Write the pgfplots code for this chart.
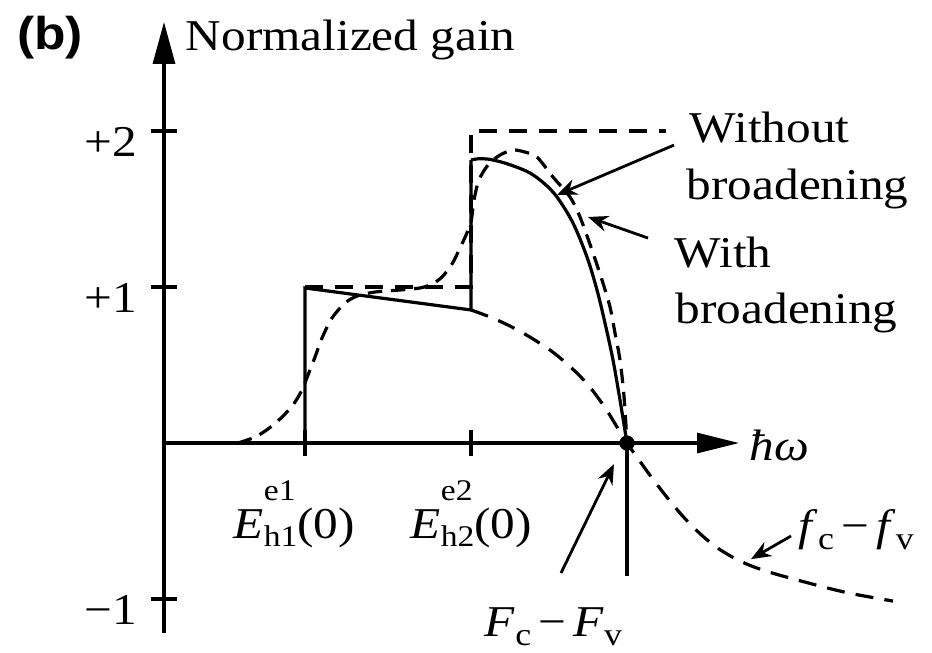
\documentclass[border=0pt]{standalone}
\usepackage{fontspec}
\setmainfont[FakeStretch=1.12]{Liberation Serif}
\newfontfamily\panelfont[FakeStretch=1.12]{Liberation Sans}
\usepackage{pgfplots}
\pgfplotsset{compat=1.18}
\usetikzlibrary{arrows.meta}

% stacked super/subscript used in the threshold labels
\newcommand{\Elabel}[2]{\textit{E}\rlap{\raisebox{9.5pt}{\fontsize{7.5}{8}\selectfont e#1}}\raisebox{-1.8pt}{\fontsize{7.5}{8}\selectfont h#2}(0)}
\newcommand{\sub}[1]{\raisebox{-2.4pt}{\fontsize{8}{9}\selectfont #1}}

\begin{document}
\begin{tikzpicture}[font=\fontsize{11}{13}\selectfont]
\begin{axis}[
  x=0.25pt, y=39pt,
  xmin=0, xmax=575, ymin=-1.218, ymax=2.699,
  enlargelimits=false,
  axis lines=middle,
  axis line style={line width=0.8pt, black},
  every inner x axis line/.append style={-{Triangle[length=10.5pt,width=5pt]}},
  every inner y axis line/.append style={-{Triangle[length=10.5pt,width=5.5pt]}},
  xtick={141,307}, xticklabels={},
  ytick={-1,1,2}, yticklabels={−1,+1,+2},
  yticklabel style={yshift=-2.8pt},
  tick align=center,
  major tick length=6.5pt,
  tick style={line width=0.8pt, black},
  clip=false,
]
% gain without broadening
\addplot[line width=0.8pt, black] coordinates {(141,0)(141,0.994)(307,0.853)(307,1.814)};
\addplot[line width=0.8pt, black, smooth, tension=0.55] coordinates {
  (307,1.814)(314,1.822)(324,1.820)(338,1.800)(352,1.770)(366,1.731)(380,1.665)
  (393,1.577)(409,1.410)(423,1.192)(433,0.981)(441,0.769)(449,0.532)(456,0.276)(463,0)};
\addplot[line width=0.8pt, black] coordinates {(463,0)(463,-0.853)};
% density-of-states steps
\addplot[line width=0.8pt, black, dash pattern=on 4.5pt off 3pt] coordinates {(141,1)(307,1)(307,2)(502,2)};
% Fermi factor f_c - f_v
\addplot[line width=0.8pt, black, dash pattern=on 4.5pt off 2.8pt, smooth, tension=0.5] coordinates {
  (307,0.853)(326,0.808)(346,0.750)(366,0.679)(386,0.596)(401,0.519)(416,0.429)
  (429,0.333)(442,0.218)(453,0.103)(463,0)(475,-0.109)(488,-0.224)(502,-0.340)
  (516,-0.449)(529,-0.538)(542,-0.615)(555,-0.679)(570,-0.737)(585,-0.782)
  (602,-0.821)(619,-0.853)(652,-0.910)(685,-0.962)(729,-1.013)};
% gain with broadening
\addplot[line width=0.8pt, black, dash pattern=on 3.6pt off 2.2pt, smooth, tension=0.5] coordinates {
  (74,0)(91,0.038)(104,0.090)(117,0.160)(129,0.244)(138,0.340)(144,0.436)(151,0.551)
  (158,0.673)(168,0.801)(181,0.897)(193,0.942)(211,0.968)(236,0.981)(256,0.994)
  (268,1.019)(278,1.064)(288,1.147)(296,1.250)(302,1.333)(307,1.417)(310,1.558)
  (315,1.686)(324,1.782)(336,1.846)(349,1.878)(361,1.865)(373,1.833)(389,1.705)
  (406,1.577)(416,1.449)(428,1.237)(438,1.045)(446,0.872)(451,0.705)(456,0.532)
  (460,0.300)(463,0)};
% crossing point F_c - F_v
\addplot[only marks, mark=*, mark size=1.7pt, black] coordinates {(463,0)};

% annotations
\draw[line width=0.7pt, -{Stealth[length=5pt,width=4pt]}] (axis cs:510,1.910) -- (axis cs:393,1.590);
\draw[line width=0.7pt, -{Stealth[length=5pt,width=4pt]}] (axis cs:484,1.314) -- (axis cs:424,1.449);
\draw[line width=0.7pt, -{Stealth[length=5pt,width=4pt]}] (axis cs:397,-0.833) -- (axis cs:450,-0.135);
\draw[line width=0.7pt, -{Stealth[length=5pt,width=4pt]}] (axis cs:627,-0.596) -- (axis cs:587,-0.744);

\node[font=\panelfont\bfseries\fontsize{11.5}{13}\selectfont] at (axis cs:-114,2.596) {(b)};
\node[anchor=base west, inner sep=0pt] at (axis cs:21,2.519) {Normalized gain};
\node[anchor=base west, inner sep=0pt] at (axis cs:525,1.929) {Without};
\node[anchor=base west, inner sep=0pt] at (axis cs:522,1.558) {broadening};
\node[anchor=base west, inner sep=0pt] at (axis cs:510,1.128) {With};
\node[anchor=base west, inner sep=0pt] at (axis cs:511,0.769) {broadening};
\node[anchor=base west, inner sep=0pt] at (axis cs:585,-0.115) {\textit{ħω}};
\node[anchor=base west, inner sep=0pt] at (axis cs:69,-0.615) {\Elabel{1}{1}};
\node[anchor=base west, inner sep=0pt] at (axis cs:246,-0.615) {\Elabel{2}{2}};
\node[anchor=base west, inner sep=0pt] at (axis cs:320,-1.237) {\textit{F}\sub{c}\,−\,\textit{F}\sub{v}};
\node[anchor=base west, inner sep=0pt] at (axis cs:634,-0.622) {\textit{f}\sub{c}\,−\,\textit{f}\sub{v}};

\coordinate (bl) at (axis cs:-164,-1.340);
\coordinate (tr) at (axis cs:768,2.840);
\end{axis}
\pgfresetboundingbox
\path[use as bounding box] (bl) rectangle (tr);
\end{tikzpicture}
\end{document}
